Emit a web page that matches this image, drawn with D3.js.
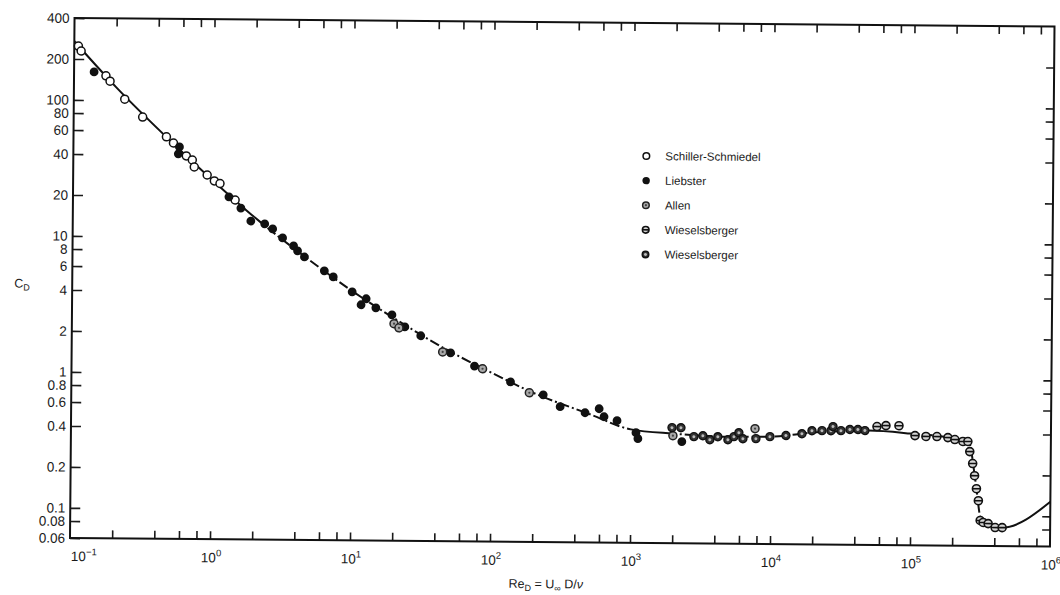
<!DOCTYPE html>
<html>
<head>
<meta charset="utf-8">
<script src="https://cdn.jsdelivr.net/npm/d3@7"></script>
<style>
  body { margin: 0; background: #fff; }
  text { font-family: "Liberation Sans", Arial, sans-serif; fill: #1a1a1a; }
</style>
</head>
<body>
<svg id="chart" width="1060" height="595"></svg>
<script>
// data (Re_D, C_D)
const schillerRe = [0.107, 0.112, 0.169, 0.181, 0.231, 0.311, 0.461, 0.518, 0.641, 0.708, 0.732, 0.906, 1.02, 1.12, 1.44];
const schillerCd = [249, 229, 151, 138, 102, 75.5, 54.2, 48.9, 39.4, 36.8, 32.7, 28.6, 25.9, 24.8, 18.8];

const liebsterRe = [0.139, 0.572, 0.562, 1.30, 1.585, 1.87, 2.35, 2.68, 3.16, 3.79, 4.05, 4.54, 6.31, 7.31, 10, 12.6, 11.6, 14.8,
  19.3, 23.9, 31.1, 50.9, 75.6, 137, 235, 311, 469, 591, 641, 794, 1086, 1122, 2312];
const liebsterCd = [161, 45.8, 40.7, 19.8, 16.4, 13.2, 12.6, 11.6, 9.96, 8.71, 8.02, 7.24, 5.74, 5.19, 4.04, 3.60, 3.25, 3.09,
  2.75, 2.25, 1.94, 1.46, 1.17, 0.90, 0.727, 0.596, 0.540, 0.579, 0.506, 0.474, 0.388, 0.351, 0.336];

const allenRe = [20, 21.7, 44.7, 86.3, 187, 1995, 7690];
const allenCd = [2.37, 2.21, 1.48, 1.12, 0.751, 0.371, 0.423];

const wiesARe = [57150, 66220, 82030, 106900, 128000, 153400, 183700, 206100, 235000, 255300, 263800, 277200, 286400,
  295900, 306000, 316200, 331900, 360600, 404600, 454000];
const wiesACd = [0.446, 0.454, 0.454, 0.385, 0.380, 0.380, 0.374, 0.362, 0.351, 0.351, 0.296, 0.242, 0.197,
  0.158, 0.129, 0.0923, 0.0893, 0.0877, 0.0821, 0.0821];

const wiesBRe = [1963, 2275, 2818, 3266, 3664, 4178, 4932, 5445, 5902, 6310, 7816, 9840, 12800, 16650, 19630, 23140,
  26840, 27730, 31620, 36640, 41780, 46880];
const wiesBCd = [0.425, 0.425, 0.366, 0.372, 0.348, 0.367, 0.349, 0.368, 0.394, 0.356, 0.357, 0.370, 0.378, 0.391, 0.412, 0.413,
  0.413, 0.443, 0.414, 0.423, 0.423, 0.416];

// the faired curve through the points
const curveRe = [0.1, 0.2, 0.5, 1, 2, 5, 10, 20, 50, 100, 200, 500, 1000, 2000, 5000, 1e4, 2e4, 5e4, 1e5, 2e5, 2.6e5, 2.9e5, 3.2e5, 3.5e5, 4.5e5, 1e6];
const curveCd = [270, 125, 50, 26, 14, 6.8, 4.1, 2.6, 1.5, 1.05, 0.75, 0.53, 0.41, 0.384, 0.367, 0.37, 0.399, 0.416, 0.398, 0.37, 0.344, 0.184, 0.094, 0.086, 0.082, 0.128];
// stretches of the curve and how each one is drawn
const curveParts = [[0.1, 2], [2, 1000], [1000, 2000], [2000, 5e4], [5e4, 1e5], [1e5, 4.5e5], [4.5e5, 1e6]];
const curvePartSolid = [true, false, true, false, true, false, true];

const legendNames = ["Schiller-Schmiedel", "Liebster", "Allen", "Wieselsberger", "Wieselsberger"];
const yTicks = [400, 200, 100, 80, 60, 40, 20, 10, 8, 6, 4, 2, 1, 0.8, 0.6, 0.4, 0.2, 0.1, 0.08, 0.06];
const yTickLabels = ["400", "200", "100", "80", "60", "40", "20", "10", "8", "6", "4", "2", "1", "0.8", "0.6", "0.4", "0.2", "0.1", "0.08", "0.06"];
const xExponents = [-1, 0, 1, 2, 3, 4, 5, 6];
const xExpLabels = ["\u22121", "0", "1", "2", "3", "4", "5", "6"];
const xMinor = [2, 4, 6, 8, 10];

const zip = (a, b) => a.map((v, i) => [v, b[i]]);
const series = [
  { name: legendNames[0], style: "open", pts: zip(schillerRe, schillerCd) },
  { name: legendNames[1], style: "filled", pts: zip(liebsterRe, liebsterCd) },
  { name: legendNames[2], style: "allen", pts: zip(allenRe, allenCd) },
  { name: legendNames[3], style: "wiesA", pts: zip(wiesARe, wiesACd) },
  { name: legendNames[4], style: "wiesB", pts: zip(wiesBRe, wiesBCd) }
];

const svg = d3.select("#chart");
svg.append("rect").attr("width", 1060).attr("height", 595).attr("fill", "#fff");

const x = d3.scaleLog().domain([0.1, 1e6]).range([70, 1050]);
const y = d3.scaleLog().domain([0.06, 400]).range([538, 18]);

// the scan sits a little crooked
const g = svg.append("g").attr("transform", "rotate(0.5,70,538)");

// ticks
let xTickVals = [];
xExponents.slice(0, -1).forEach((e) => {
  xMinor.forEach((m) => xTickVals.push(m * Math.pow(10, e)));
});
xTickVals = xTickVals.filter((v) => v < 1e6);

g.append("g").attr("transform", "translate(0,538)")
  .call(d3.axisBottom(x).tickValues(xTickVals).tickSize(-8).tickFormat(""))
  .call((a) => a.select(".domain").remove());
g.append("g").attr("transform", "translate(0,18)")
  .call(d3.axisTop(x).tickValues(xTickVals).tickSize(-8).tickFormat(""))
  .call((a) => a.select(".domain").remove());
g.append("g").attr("transform", "translate(70,0)")
  .call(d3.axisLeft(y).tickValues(yTicks).tickSize(-10).tickPadding(5)
    .tickFormat((d, i) => yTickLabels[i]))
  .call((a) => a.select(".domain").remove())
  .call((a) => a.selectAll("text").attr("font-size", 13.5).attr("font-family", "Liberation Sans, Arial, sans-serif").attr("fill", "#1a1a1a"));
g.append("g").attr("transform", "translate(1050,0)")
  .call(d3.axisRight(y).tickValues(yTicks.slice(1, -1)).tickSize(-8).tickFormat(""))
  .call((a) => a.select(".domain").remove());
g.selectAll(".tick line").attr("stroke", "#1a1a1a").attr("stroke-width", 1.6);

// frame
g.append("rect")
  .attr("x", x.range()[0]).attr("y", y.range()[1])
  .attr("width", x.range()[1] - x.range()[0]).attr("height", y.range()[0] - y.range()[1])
  .attr("fill", "none").attr("stroke", "#111").attr("stroke-width", 2);

// decade labels on the x axis
const xl = g.append("g").attr("font-size", 13.5);
xExponents.forEach((e, i) => {
  const t = xl.append("text")
    .attr("x", x(Math.pow(10, e)) - (e === -1 ? -1 : 9))
    .attr("y", 561);
  t.append("tspan").text("10");
  t.append("tspan").attr("dy", -6).attr("font-size", 9.5).text(xExpLabels[i]);
});

// axis titles
const cy = g.append("text").attr("x", 12).attr("y", 288).attr("font-size", 12.5);
cy.append("tspan").text("C");
cy.append("tspan").attr("dy", 3).attr("font-size", 9).text("D");

const cx = g.append("text").attr("x", 509).attr("y", 584).attr("font-size", 12.5);
cx.append("tspan").text("Re");
cx.append("tspan").attr("dy", 3).attr("font-size", 9).text("D");
cx.append("tspan").attr("dy", -3).text(" = U");
cx.append("tspan").attr("dy", 3).attr("font-size", 9).text("\u221e");
cx.append("tspan").attr("dy", -3).text(" D/");
cx.append("tspan").attr("font-style", "italic").text("\u03bd");

// curve, piece by piece
const curvePts = zip(curveRe, curveCd);
const line = d3.line().x((d) => x(d[0])).y((d) => y(d[1])).curve(d3.curveMonotoneX);
curveParts.forEach(([a, b], i) => {
  const i0 = Math.max(0, curveRe.indexOf(a) - 1);
  const i1 = Math.min(curveRe.length - 1, curveRe.indexOf(b) + 1);
  // include one neighbour each side, then clip to the stretch
  const clipId = "clip" + i;
  g.append("clipPath").attr("id", clipId).append("rect")
    .attr("x", x(a)).attr("width", x(b) - x(a))
    .attr("y", 0).attr("height", 595);
  g.append("path").attr("d", line(curvePts.slice(i0, i1 + 1)))
    .attr("clip-path", `url(#${clipId})`)
    .attr("fill", "none").attr("stroke", "#111").attr("stroke-width", 2)
    .attr("stroke-dasharray", curvePartSolid[i] ? null : "10,3,2,3");
});

// markers
function drawMarker(sel, style, r) {
  if (style === "open") {
    sel.append("circle").attr("r", r).attr("fill", "#fff").attr("stroke", "#111").attr("stroke-width", 1.5);
  } else if (style === "filled") {
    sel.append("circle").attr("r", r + 0.4).attr("fill", "#111");
  } else if (style === "allen") {
    sel.append("circle").attr("r", r).attr("fill", "#a8a8a8").attr("stroke", "#222").attr("stroke-width", 1.5);
    sel.append("circle").attr("r", 1.1).attr("fill", "#444");
  } else if (style === "wiesA") {
    sel.append("circle").attr("r", r).attr("fill", "#d4d4d4").attr("stroke", "#111").attr("stroke-width", 1.6);
    sel.append("line").attr("x1", -r).attr("x2", r).attr("stroke", "#111").attr("stroke-width", 1.6);
  } else {
    sel.append("circle").attr("r", r).attr("fill", "#333").attr("stroke", "#111").attr("stroke-width", 1.4);
    sel.append("circle").attr("r", 1.5).attr("fill", "#bbb");
  }
}

series.forEach((s) => {
  g.append("g").selectAll("g").data(s.pts).join("g")
    .attr("transform", (d) => `translate(${x(d[0])},${y(d[1])})`)
    .each(function () { drawMarker(d3.select(this), s.style, 4); });
});

// legend
const lg = g.append("g").attr("transform", "translate(643,151)");
series.forEach((s, i) => {
  const row = lg.append("g").attr("transform", `translate(0,${i * 24.6})`);
  drawMarker(row.append("g"), s.style, 3.3);
  row.append("text").attr("x", 19).attr("y", 4).attr("font-size", 11.5).text(s.name);
});
</script>
</body>
</html>
